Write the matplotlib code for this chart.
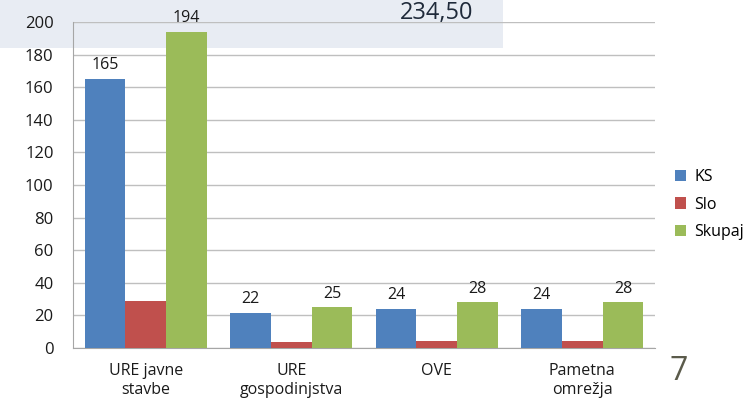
import matplotlib
matplotlib.use("Agg")
import matplotlib.pyplot as plt
import numpy as np

plt.rcParams['font.family'] = ['Open Sans', 'DejaVu Sans']

categories = ["URE javne\nstavbe", "URE\ngospodinjstva", "OVE", "Pametna\nomrežja"]
ks = [165, 21.6, 24, 24]
slo = [29, 3.4, 4, 4]
skupaj = [194, 25, 28, 28]
series_names = ["KS", "Slo", "Skupaj"]
colors = ["#4f81bd", "#c0504d", "#9bbb59"]

fig = plt.figure(figsize=(7.56, 4.01), dpi=100)
# light banner behind the top of the chart
fig.patches.append(plt.Rectangle((0, 1 - 48/401), 503/756, 48/401, transform=fig.transFigure,
                                 facecolor="#e8ecf3", edgecolor="none", zorder=-1))
fig.text(437/756, 1 - 13/401, "234,50", fontsize=17, color="#1f2a3a", ha="center", va="center")
fig.text(679/756, 1 - 372/401, "7", fontsize=23, color="#5b5b4b", ha="center", va="center")

ax = fig.add_axes([73/756, 1 - 348/401, 582/756, 326/401])
ax.patch.set_alpha(0)

x = np.arange(len(categories))
w = 0.28
data = [ks, slo, skupaj]
for i, (vals, name, c) in enumerate(zip(data, series_names, colors)):
    bars = ax.bar(x + (i - 1) * w, vals, w, color=c, label=name, zorder=3)
    if name != "Slo":
        ax.bar_label(bars, labels=["%.0f" % v for v in vals], padding=4, fontsize=11.5, color="#1a1a1a")

ax.set_xlim(-0.5, len(categories) - 0.5)
ax.set_ylim(0, 200)
ax.set_yticks(range(0, 201, 20))
ax.set_xticks(x)
ax.set_xticklabels(categories, fontsize=11.5, color="#1a1a1a", linespacing=1.2)
ax.tick_params(axis="y", labelsize=12, colors="#1a1a1a", length=0, pad=14)
ax.tick_params(axis="x", length=0, pad=11)
ax.yaxis.grid(True, color="#bfbfbf", linewidth=1, zorder=0)
ax.set_axisbelow(True)
for s in ["top", "right"]:
    ax.spines[s].set_visible(False)
ax.spines["left"].set_color("#a6a6a6")
ax.spines["bottom"].set_color("#a6a6a6")

ax.legend(loc="center left", bbox_to_anchor=(1.01, 0.44), frameon=False, fontsize=11.5,
          handlelength=0.7, handleheight=0.7, handletextpad=0.5, labelspacing=0.7)

fig.savefig("out.png", dpi=100)
